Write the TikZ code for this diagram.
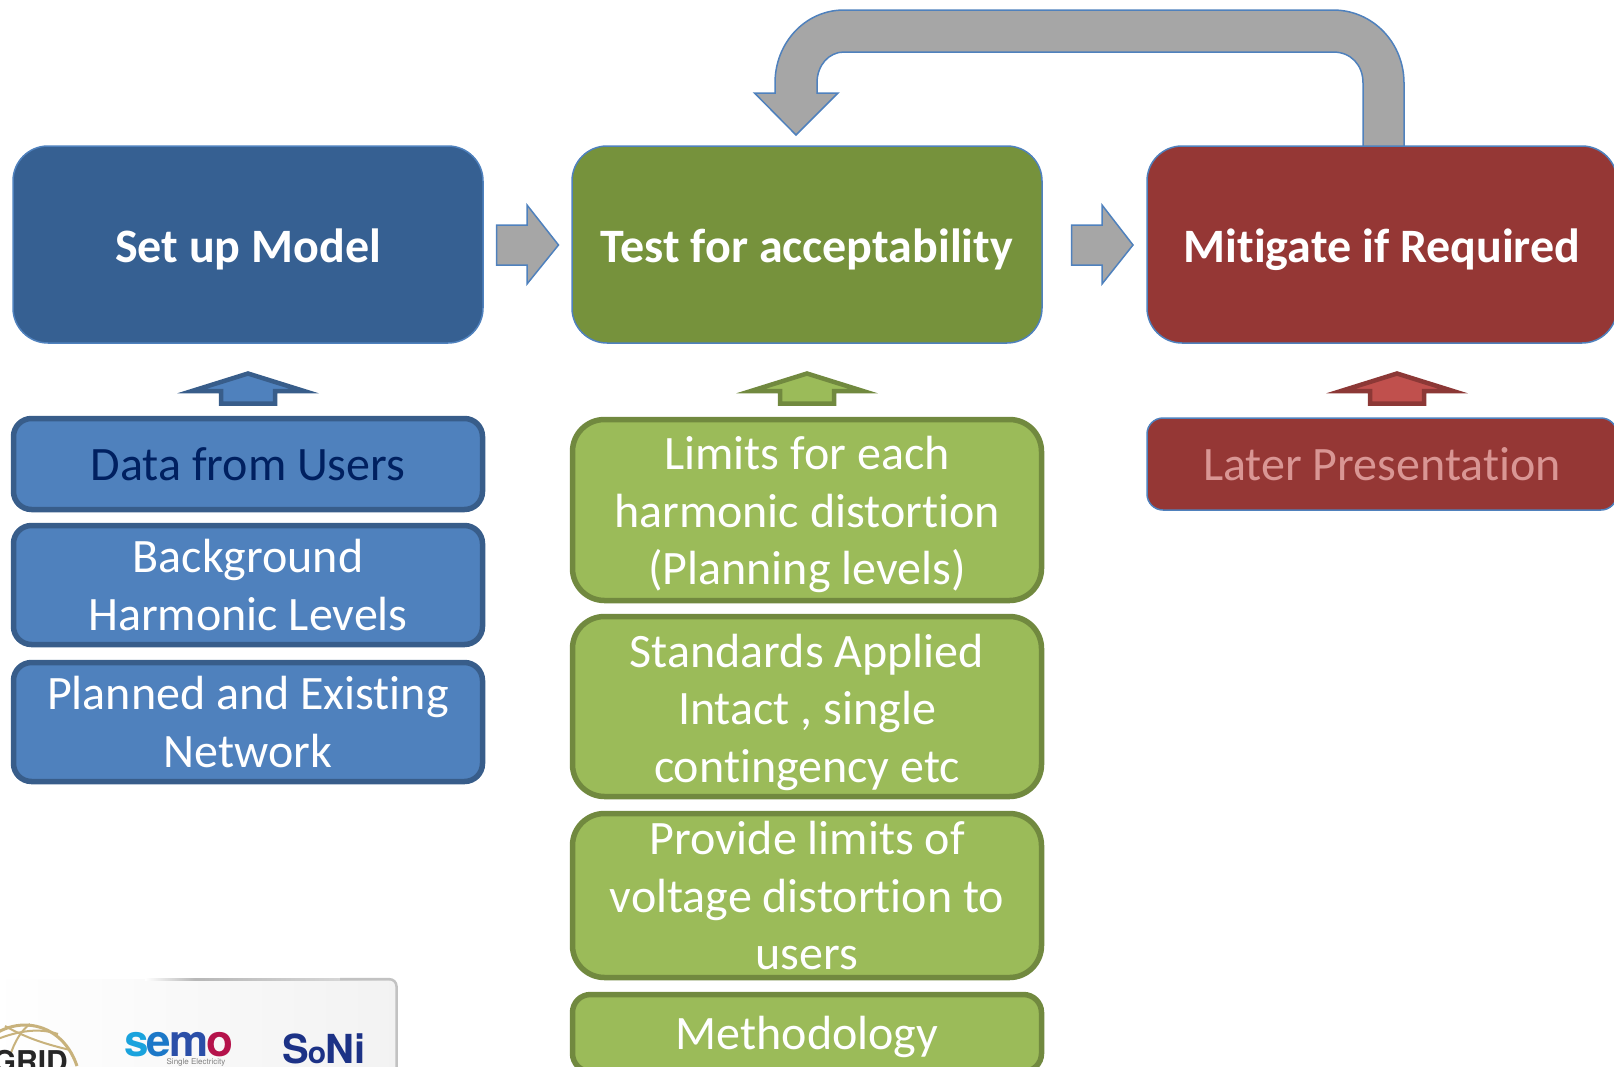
\documentclass[tikz,border=0pt]{standalone}
\usepackage{fontspec}
\setmainfont[Ligatures=NoCommon]{Carlito}
\newfontfamily\herosfont{TeX Gyre Heros}
\usetikzlibrary{shadings}
\definecolor{edgeblue}{HTML}{4F81BD}
\definecolor{blockgray}{HTML}{A6A6A6}
\definecolor{mainblue}{HTML}{366092}
\definecolor{maingreen}{HTML}{76923C}
\definecolor{mainred}{HTML}{953735}
\definecolor{subblue}{HTML}{4F81BD}
\definecolor{subblueedge}{HTML}{385D8A}
\definecolor{subgreen}{HTML}{9BBB59}
\definecolor{subgreenedge}{HTML}{71893F}
\definecolor{arrowred}{HTML}{C0504D}
\definecolor{arrowredge}{HTML}{8C3836}
\definecolor{navytext}{HTML}{002060}
\definecolor{latertext}{HTML}{D99694}
\definecolor{tangold}{HTML}{C8B27C}
\tikzset{
 mainbox/.style={draw=edgeblue,line width=1.5pt,rounded corners=35pt,minimum width=470pt,minimum height=197pt,text=white,font=\fontsize{48}{54}\selectfont\bfseries,inner sep=0pt},
 subbox/.style={line width=5.5pt,text=white,align=center,font=\fontsize{48}{57.6}\selectfont,inner sep=0pt},
 bluebox/.style={subbox,draw=subblueedge,fill=subblue,rounded corners=18pt,minimum width=469pt},
 greenbox/.style={subbox,draw=subgreenedge,fill=subgreen,rounded corners=32pt,minimum width=469pt},
 blockarrow/.style={draw=edgeblue,fill=blockgray,line width=1.5pt,line join=miter},
 uparrow/.style={line width=4.5pt,line join=miter},
}
\begin{document}
\begin{tikzpicture}[x=1pt,y=-1pt]
\useasboundingbox (0,0) rectangle (1614,1066);
\clip (0,0) rectangle (1614,1066);
% logo panel
\shade[left color=white,right color=white!95!black,rounded corners=8pt] (-10,979) rectangle (397,1090);
\shade[left color=white,right color=white!72!black] (145,978) rectangle (195,980.5);
\shade[left color=white!72!black,right color=white!88!black] (195,978) rectangle (390,980.5);
\draw[white!76!black,line width=2.5pt,rounded corners=7pt] (340,979.2) -- (396.5,979.2) -- (396.5,1080);
\draw[tangold,line width=3pt] (-30,1060) .. controls (0,1010) and (60,1015) .. (77,1066);
\draw[tangold,line width=2pt] (-5,1040) .. controls (20,1030) and (40,1028) .. (58,1034);
\draw[tangold,line width=2pt] (5,1026) .. controls (30,1040) and (50,1045) .. (70,1050);
\draw[tangold,line width=2pt] (30,1024) .. controls (22,1030) and (15,1040) .. (10,1056);
\node[anchor=base east,inner sep=0pt,font=\fontsize{30}{30}\herosfont\bfseries,text=black!85] (gridlogo) at (68,1072) {RGRID};
\node[anchor=base west,inner sep=0pt,font=\fontsize{44}{44}\herosfont\bfseries] (semologo) at (124,1056) {\textcolor[HTML]{1AA3DD}{s}\kern-2pt\textcolor[HTML]{1C78C8}{e}\kern-2pt\textcolor[HTML]{2B4FA8}{m}\kern-2pt\textcolor[HTML]{B5134B}{o}};
\node[anchor=base,inner sep=0pt,font=\fontsize{8}{8}\herosfont,text=black!50] (semosub) at (196,1064) {Single Electricity};
\node[anchor=base west,inner sep=0pt,font=\fontsize{40}{40}\herosfont\bfseries,text=mainblue!70!blue!75!black] (sonilogo) at (282,1063) {S\kern-1pt{\fontsize{30}{30}\selectfont o}\kern-1pt Ni};
% loop arrow
\draw[blockarrow] (1363,146) -- (1363,83) .. controls (1363,65) and (1351,52) .. (1333,52) -- (844,52)
 .. controls (829,52) and (817,65) .. (817,83) -- (817,93) -- (838,93) -- (796,135) -- (754.5,93) -- (775,93) -- (775,83)
 .. controls (775,43) and (805,10) .. (844,10) -- (1333,10) .. controls (1373,10) and (1404,43) .. (1404,83) -- (1404,146);
% main boxes
\node[mainbox,fill=mainblue,text depth=0pt,text height=36pt] (setup) at (248,244.5) {Set up Model};
\node[mainbox,fill=maingreen,text depth=0pt,text height=36pt] (test) at (807,244.5) {Test for acceptability};
\node[mainbox,fill=mainred,text depth=0pt,text height=36pt] (mitigate) at (1382,244.5) {Mitigate if Required};
% right block arrows
\draw[blockarrow] (496.5,225) -- (527,225) -- (527,205) -- (558.5,245) -- (527,284) -- (527,265) -- (496.5,265) -- cycle;
\draw[blockarrow] (1071.5,225) -- (1102,225) -- (1102,205) -- (1133,245) -- (1102,284) -- (1102,265) -- (1071.5,265) -- cycle;
% up arrows
\draw[uparrow,draw=subblueedge,fill=subblue] (248,373.5) -- (192,391) -- (221,391) -- (221,403.5) -- (275,403.5) -- (275,391) -- (304,391) -- cycle;
\draw[uparrow,draw=subgreenedge,fill=subgreen] (807,373.5) -- (751,391) -- (780,391) -- (780,403.5) -- (834,403.5) -- (834,391) -- (863,391) -- cycle;
\draw[uparrow,draw=arrowredge,fill=arrowred] (1397,373.5) -- (1341,391) -- (1370,391) -- (1370,403.5) -- (1424,403.5) -- (1424,391) -- (1453,391) -- cycle;
% sub boxes: blue
\node[bluebox,minimum height=91pt,text=navytext] (users) at (248,464) {Data from Users};
\node[bluebox,minimum height=119pt] (background) at (248,585) {Background\\Harmonic Levels};
\node[bluebox,minimum height=119pt] (network) at (248,722) {Planned and Existing\\Network};
% sub boxes: green
\node[greenbox,minimum height=181pt] (limits) at (807,510) {\rule{0pt}{43pt}Limits for each\\harmonic distortion\\(Planning levels)};
\node[greenbox,minimum height=180pt] (standards) at (807,706.5) {\rule{0pt}{45pt}Standards Applied\\Intact , single\\contingency etc};
\node[greenbox,minimum height=164pt] (voltage) at (807,895.5) {Provide limits of\\voltage distortion to\\users};
\node[greenbox,minimum height=77pt,rounded corners=18pt] (method) at (807,1033) {\rule{0pt}{41pt}Methodology};
% later
\node[draw=edgeblue,fill=mainred,line width=1.5pt,rounded corners=16pt,minimum width=470pt,minimum height=92pt,text=latertext,font=\fontsize{48}{57.6}\selectfont,inner sep=0pt] (later) at (1382,464) {Later Presentation};
\end{tikzpicture}
\end{document}
